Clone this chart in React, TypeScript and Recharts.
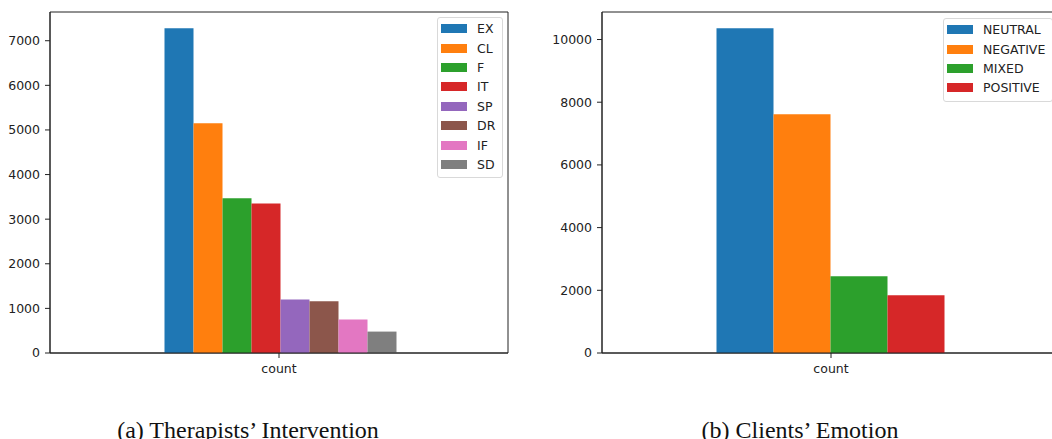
import React from "react";
import { BarChart, Bar, XAxis, YAxis, Legend, ReferenceArea } from "recharts";

// left panel: therapists' intervention counts
const interventionLabels = ["EX", "CL", "F", "IT", "SP", "DR", "IF", "SD"];
const interventionCounts = [7280, 5150, 3470, 3350, 1200, 1160, 750, 480];
const interventionTicks = [0, 1000, 2000, 3000, 4000, 5000, 6000, 7000];

// right panel: clients' emotion counts
const emotionLabels = ["NEUTRAL", "NEGATIVE", "MIXED", "POSITIVE"];
const emotionCounts = [10360, 7620, 2450, 1840];
const emotionTicks = [0, 2000, 4000, 6000, 8000, 10000];

const categoryName = "count";
const captions = ["(a) Therapists\u2019 Intervention", "(b) Clients\u2019 Emotion"];

// matplotlib tab10
const tab10 = [
  "#1f77b4",
  "#ff7f0e",
  "#2ca02c",
  "#d62728",
  "#9467bd",
  "#8c564b",
  "#e377c2",
  "#7f7f7f",
];

const sansFont = "'DejaVu Sans', sans-serif";
const serifFont = "'Liberation Serif', 'Times New Roman', serif";
const axisColor = "#222";
const fontSize = 12.5;

type LegendBoxProps = {
  payload?: { value: string; color: string }[];
  order: string[];
};

const LegendBox = ({ payload = [], order }: LegendBoxProps) => {
  const items = [...payload].sort(
    (a, b) => order.indexOf(a.value) - order.indexOf(b.value)
  );
  return (
    <div
      style={{
        border: "1px solid #d9d9d9",
        borderRadius: 3,
        background: "rgba(255,255,255,0.85)",
        padding: "1px 7px 3px 3px",
        fontFamily: sansFont,
        fontSize,
        color: "#222",
        whiteSpace: "nowrap",
      }}
    >
      {items.map((item) => (
        <div
          key={item.value}
          style={{ display: "flex", alignItems: "center", height: 19.4 }}
        >
          <span
            style={{
              display: "inline-block",
              width: 26,
              height: 9,
              background: item.color,
              marginRight: 10,
            }}
          />
          <span>{item.value}</span>
        </div>
      ))}
    </div>
  );
};

type CountChartProps = {
  labels: string[];
  counts: number[];
  ticks: number[];
  legendLeft: number;
  legendTop: number;
};

const CountChart = ({ labels, counts, ticks, legendLeft, legendTop }: CountChartProps) => {
  const row: Record<string, string | number> = { name: categoryName };
  labels.forEach((l, i) => {
    row[l] = counts[i];
  });
  // matplotlib leaves a 5% margin above the tallest bar
  const yTop = Math.max(...counts) * 1.05;

  return (
    <BarChart
      width={520}
      height={400}
      data={[row]}
      margin={{ top: 12, right: 12, bottom: 0, left: 0 }}
      barGap={0}
      barCategoryGap="25%"
    >
      <XAxis
        dataKey="name"
        height={47}
        tickSize={5}
        tickMargin={6}
        stroke={axisColor}
        tick={{ fontSize, fill: axisColor, fontFamily: sansFont }}
      />
      <YAxis
        width={50}
        domain={[0, yTop]}
        ticks={ticks}
        tickSize={5}
        tickMargin={5}
        stroke={axisColor}
        tick={{ fontSize, fill: axisColor, fontFamily: sansFont }}
      />
      {labels.map((l, i) => (
        <Bar key={l} dataKey={l} fill={tab10[i]} isAnimationActive={false} />
      ))}
      {/* frame around the plot area, like matplotlib's spines */}
      <ReferenceArea
        y1={0}
        y2={yTop}
        fill="none"
        fillOpacity={0}
        stroke={axisColor}
        strokeOpacity={1}
        strokeWidth={1}
        ifOverflow="visible"
      />
      <Legend
        layout="vertical"
        align="center"
        verticalAlign="middle"
        wrapperStyle={{ left: legendLeft, top: legendTop, width: "auto" }}
        content={(props: any) => <LegendBox payload={props.payload} order={labels} />}
      />
    </BarChart>
  );
};

const App = () => {
  return (
    <div
      style={{
        position: "absolute",
        left: 0,
        top: 0,
        width: 1052,
        height: 439,
        overflow: "hidden",
        background: "#fff",
      }}
    >
      <div style={{ position: "absolute", left: 0, top: 0 }}>
        <CountChart
          labels={interventionLabels}
          counts={interventionCounts}
          ticks={interventionTicks}
          legendLeft={437}
          legendTop={17}
        />
      </div>
      <div style={{ position: "absolute", left: 552, top: 0 }}>
        <CountChart
          labels={emotionLabels}
          counts={emotionCounts}
          ticks={emotionTicks}
          legendLeft={391}
          legendTop={18}
        />
      </div>
      <svg
        width={1052}
        height={439}
        style={{ position: "absolute", left: 0, top: 0, pointerEvents: "none" }}
      >
        <text x={248} y={437.5} textAnchor="middle" fontFamily={serifFont} fontSize={24} fill="#111">
          {captions[0]}
        </text>
        <text x={800} y={437.5} textAnchor="middle" fontFamily={serifFont} fontSize={24} fill="#111">
          {captions[1]}
        </text>
      </svg>
    </div>
  );
};

export default App;
